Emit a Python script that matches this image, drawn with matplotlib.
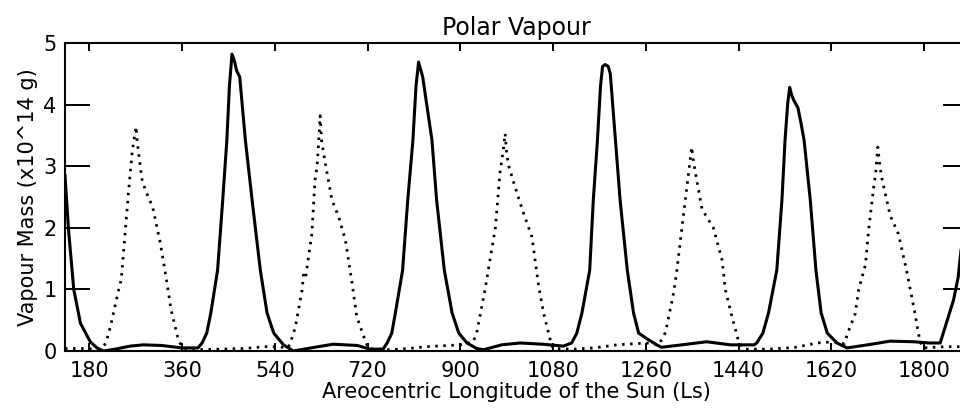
import matplotlib
matplotlib.use("Agg")
import matplotlib.pyplot as plt

# solid curve
ls_solid = [133, 140, 150, 163, 182, 195, 208, 230, 260, 285, 320, 360, 391,
            399, 408, 416, 429, 439, 447, 452, 457, 462, 466, 472, 483, 496, 512,
            525, 538, 557, 576, 610, 653, 700, 725, 750,
            758, 767, 774, 788, 798, 808, 814, 819, 822, 827, 845, 854, 869,
            884, 897, 913, 932, 945, 980, 1016, 1060, 1100,
            1116, 1126, 1136, 1151, 1158, 1166, 1172, 1176, 1181, 1187, 1191, 1201,
            1210, 1224, 1236, 1246, 1262, 1281, 1290, 1330, 1378, 1424, 1470,
            1475, 1487, 1498, 1514, 1524, 1530, 1535, 1539, 1543, 1547, 1555, 1561,
            1567, 1579, 1590, 1600, 1612, 1631, 1650, 1690, 1734, 1780, 1810, 1831,
            1837, 1857, 1866, 1876, 1885]
mass_solid = [2.85, 1.95, 1.0, 0.45, 0.15, 0.05, 0.0, 0.03, 0.08, 0.1, 0.09, 0.05, 0.05,
              0.13, 0.29, 0.62, 1.31, 2.45, 3.42, 4.3, 4.82, 4.7, 4.55, 4.45, 3.42, 2.45, 1.31,
              0.62, 0.29, 0.1, 0.0, 0.05, 0.11, 0.09, 0.03, 0.03,
              0.13, 0.29, 0.62, 1.31, 2.45, 3.42, 4.3, 4.69, 4.6, 4.45, 3.42, 2.45, 1.31,
              0.62, 0.29, 0.13, 0.04, 0.02, 0.1, 0.13, 0.11, 0.08,
              0.13, 0.29, 0.62, 1.31, 2.45, 3.42, 4.3, 4.62, 4.65, 4.62, 4.5, 3.42,
              2.45, 1.31, 0.62, 0.29, 0.2, 0.1, 0.06, 0.1, 0.15, 0.1, 0.1,
              0.13, 0.29, 0.62, 1.31, 2.45, 3.42, 4.0, 4.28, 4.15, 4.07, 3.95, 3.7,
              3.42, 2.45, 1.31, 0.62, 0.29, 0.13, 0.05, 0.1, 0.16, 0.15, 0.13, 0.13,
              0.29, 0.83, 1.2, 2.0, 2.7]

# dotted curve
ls_dot = [133, 170, 200, 212, 221, 237, 242, 248, 256, 263, 268, 271, 273, 276, 282,
          289, 303, 318, 329, 339, 353, 361, 380, 430, 480, 520, 545, 565,
          570, 580, 593, 596, 600, 612, 618, 622, 626, 628, 631, 638, 651, 664, 677,
          690, 699, 715, 722, 760, 800, 835, 900, 925,
          932, 948, 958, 968, 977, 984, 987, 990, 994, 1003, 1020, 1039, 1052, 1062,
          1074, 1080, 1120, 1160, 1204, 1240, 1268, 1285,
          1298, 1314, 1320, 1330, 1343, 1349, 1352, 1356, 1369, 1380, 1391, 1408,
          1414, 1427, 1440, 1451, 1500, 1550, 1592, 1624, 1645,
          1652, 1666, 1673, 1686, 1692, 1702, 1706, 1710, 1714, 1718, 1734, 1750,
          1766, 1780, 1792, 1798, 1840, 1885]
mass_dot = [0.04, 0.04, 0.03, 0.12, 0.39, 0.99, 1.15, 1.75, 2.56, 3.2, 3.5, 3.64, 3.4, 3.2, 2.8,
            2.61, 2.34, 1.75, 1.2, 0.66, 0.18, 0.05, 0.02, 0.03, 0.04, 0.07, 0.07, 0.05,
            0.12, 0.39, 0.99, 1.26, 1.2, 1.91, 2.77, 2.99, 3.5, 3.82, 3.4, 3.05, 2.45, 2.18, 1.8,
            1.1, 0.56, 0.18, 0.04, 0.02, 0.04, 0.07, 0.1, 0.15,
            0.3, 1.0, 1.5, 2.0, 2.9, 3.3, 3.53, 3.2, 3.0, 2.75, 2.3, 1.85, 1.05, 0.6,
            0.2, 0.04, 0.03, 0.05, 0.1, 0.12, 0.13, 0.1,
            0.3, 0.95, 1.3, 2.0, 2.9, 3.31, 3.1, 2.9, 2.3, 2.15, 2.0, 1.47,
            1.0, 0.56, 0.15, 0.03, 0.03, 0.06, 0.13, 0.15, 0.12,
            0.3, 0.6, 1.0, 1.4, 1.95, 2.66, 2.9, 3.31, 3.0, 2.8, 2.2, 1.9,
            1.3, 0.7, 0.15, 0.05, 0.07, 0.07]

xticks = [180, 360, 540, 720, 900, 1080, 1260, 1440, 1620, 1800]
yticks = [0, 1, 2, 3, 4, 5]

plt.rcParams['font.family'] = 'DejaVu Sans'
fig = plt.figure(figsize=(9.6, 4.11), dpi=100)
# axes runs a little past the right edge of the picture, as in the original crop
ax = fig.add_axes([65/960, 60/411, 903/960, 308/411])

ax.plot(ls_solid, mass_solid, color='k', lw=2.2, solid_joinstyle='round')
ax.plot(ls_dot, mass_dot, color='k', lw=2.0, linestyle=(0, (0.9, 2.0)))

ax.set_xlim(133, 1885)
ax.set_ylim(0, 5)
ax.set_xticks(xticks)
ax.set_yticks(yticks)
ax.tick_params(axis='x', direction='in', length=6, width=1.4, top=True,
               labelsize=15, pad=7)
ax.tick_params(axis='y', direction='in', length=18, width=1.4, right=True,
               labelsize=15, pad=6)
for s in ax.spines.values():
    s.set_linewidth(1.5)

ax.set_title('Polar Vapour', fontsize=17, pad=6)
ax.set_xlabel('Areocentric Longitude of the Sun (Ls)', fontsize=15, labelpad=1)
ax.set_ylabel('Vapour Mass (x10^14 g)', fontsize=15, labelpad=4)

fig.savefig('out.png', dpi=100)
